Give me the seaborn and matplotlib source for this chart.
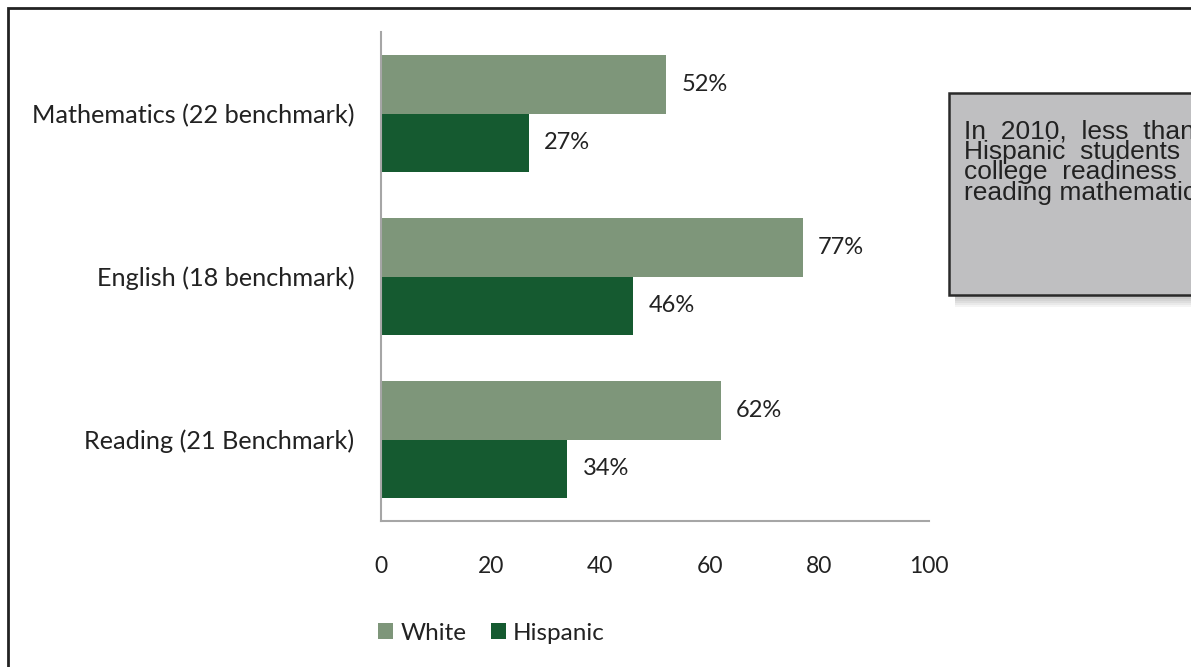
import pandas as pd
import numpy as np
import matplotlib.pyplot as plt
import seaborn as sns
from matplotlib.patches import Rectangle

subjects = ['Mathematics (22 benchmark)', 'English (18 benchmark)', 'Reading (21 Benchmark)']
white = [52, 77, 62]
hispanic = [27, 46, 34]
groups = ['White', 'Hispanic']
colors = ['#7e967a', '#155a30']
note_lines = ['In  2010,  less  than', 'Hispanic  students',
              'college  readiness', 'reading mathematics']

df = pd.DataFrame({
    'subject': subjects * 2,
    'group': ['White'] * 3 + ['Hispanic'] * 3,
    'pct': white + hispanic,
})

sns.set_style('white')
plt.rcParams['font.family'] = ['Lato', 'DejaVu Sans']

fig = plt.figure(figsize=(11.91, 6.67), dpi=100)
ax = fig.add_axes([381 / 1191, 1 - 521 / 667, 548 / 1191, 489 / 667])

sns.barplot(data=df, y='subject', x='pct', hue='group', order=subjects, hue_order=groups,
            palette=colors, width=0.72, orient='h', ax=ax, saturation=1, linewidth=0)

for cont in ax.containers:
    ax.bar_label(cont, labels=[f'{int(v)}%' for v in cont.datavalues], padding=11,
                 fontsize=17, color='#222222')

ax.set_xlim(0, 100)
ax.set_ylim(2.5, -0.5)
ax.set_xticks([0, 20, 40, 60, 80, 100])
ax.set_xlabel('')
ax.set_ylabel('')
ax.tick_params(axis='x', length=0, pad=25, labelsize=16.5, labelcolor='#222222')
ax.tick_params(axis='y', length=0, pad=19, labelsize=18.2, labelcolor='#222222')
for s in ['top', 'right']:
    ax.spines[s].set_visible(False)
for s in ['left', 'bottom']:
    ax.spines[s].set_color('#a6a6a6')
    ax.spines[s].set_linewidth(1.5)

ax.legend(loc='center left', bbox_to_anchor=(-25 / 548, -112 / 489), ncol=2, frameon=False,
          fontsize=17.5, handlelength=0.62, handleheight=0.62, handletextpad=0.3,
          columnspacing=1.0, labelcolor='#222222')

# outer frame
fig.patches.append(Rectangle((8 / 1191, -0.1), 1.2, 1 - 8 / 667 + 0.1, transform=fig.transFigure,
                             fill=False, edgecolor='#222222', linewidth=2, zorder=0))

# text box with soft shadow
bx, by, bw, bh = 949 / 1191, 1 - 295 / 667, 0.3, 202 / 667
for off in range(12, 0, -2):
    fig.patches.append(Rectangle((bx + 6 / 1191, by - off / 667), bw, bh, transform=fig.transFigure,
                                 facecolor='black', edgecolor='none', alpha=0.045, zorder=1))
fig.patches.append(Rectangle((bx, by), bw, bh, transform=fig.transFigure,
                             facecolor='#bfbfc1', edgecolor='#2a2a2a', linewidth=1.8, zorder=2))
fig.text(964 / 1191, 1 - 119 / 667, '\n'.join(note_lines), fontsize=19, linespacing=0.82,
         family=['Liberation Sans', 'DejaVu Sans'], color='#222222', va='top', zorder=3)

fig.savefig('out.png', dpi=100)
